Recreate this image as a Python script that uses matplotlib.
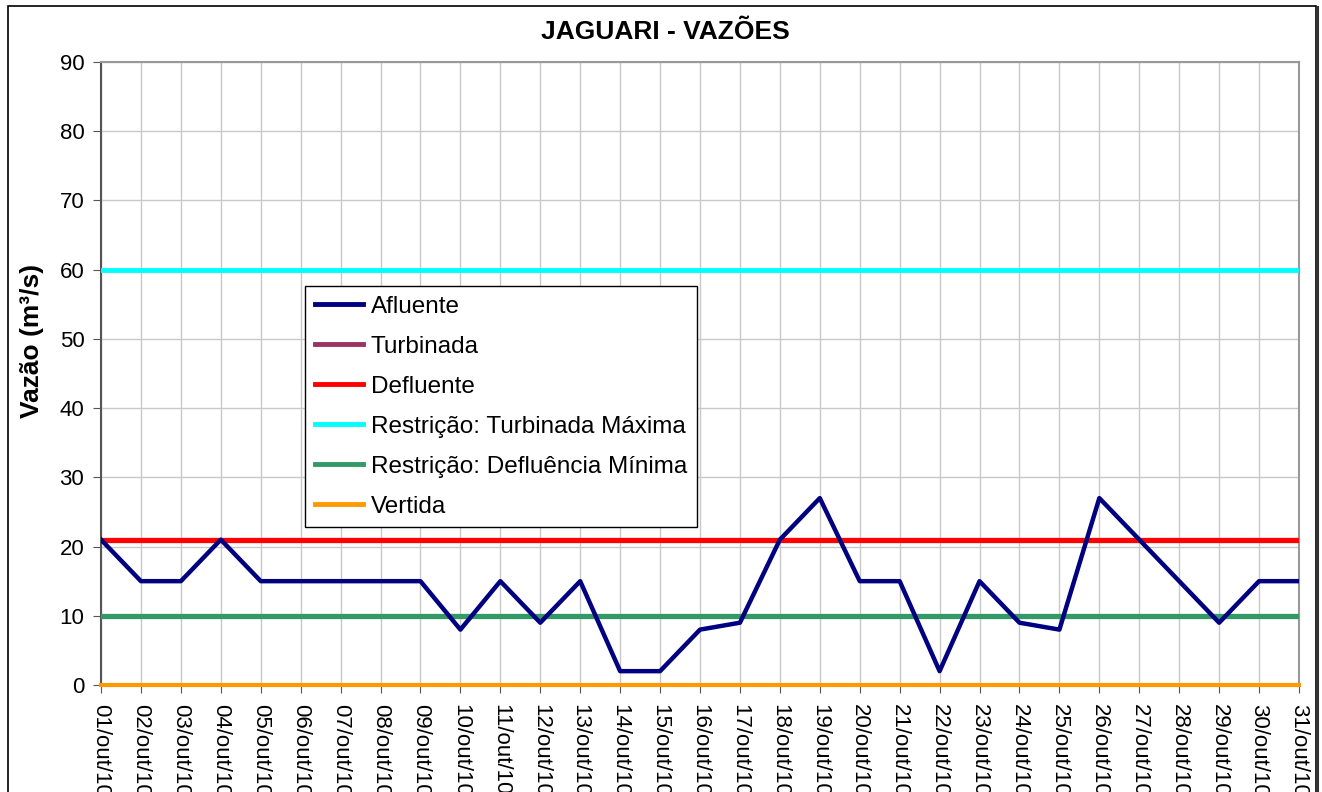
import matplotlib
matplotlib.use("Agg")
import matplotlib.pyplot as plt
from matplotlib.patches import Rectangle
from matplotlib.lines import Line2D

plt.rcParams['font.family'] = ['Liberation Sans', 'DejaVu Sans']

days = [f"{d:02d}/out/10" for d in range(1, 32)]
afluente = [21, 15, 15, 21, 15, 15, 15, 15, 15, 8, 15, 9, 15, 2, 2, 8, 9, 21, 27, 15,
            15, 2, 15, 9, 8, 27, 21, 15, 9, 15, 15]
turbinada = [21] * 31
defluente = [21] * 31
turb_max = [60] * 31
deflu_min = [10] * 31
vertida = [0] * 31

W, H = 1322, 792
fig = plt.figure(figsize=(W / 100, H / 100), dpi=100)
ax = fig.add_axes([101 / W, 1 - 685 / H, 1198 / W, 623 / H])

x = list(range(len(days)))
ax.plot(x, turbinada, color='#993366', lw=3.5, label='Turbinada', zorder=3)
ax.plot(x, defluente, color='#ff0000', lw=3.8, label='Defluente', zorder=4)
ax.plot(x, turb_max, color='#00ffff', lw=3.5, label='Restrição: Turbinada Máxima', zorder=4)
ax.plot(x, deflu_min, color='#339966', lw=3.8, label='Restrição: Defluência Mínima', zorder=4)
ax.plot(x, vertida, color='#ff9900', lw=3.0, label='Vertida', zorder=4, clip_on=False)
ax.plot(x, afluente, color='#000080', lw=3.2, label='Afluente', zorder=5)

ax.set_xlim(0, 30)
ax.set_ylim(0, 90)
ax.set_yticks(range(0, 91, 10))
ax.set_xticks(x)
ax.set_xticklabels(days, rotation=270, fontsize=16, va='top', ha='center')
ax.tick_params(axis='y', labelsize=16, length=6, color='#555555', direction='out', pad=6)
ax.tick_params(axis='x', length=6, color='#555555', direction='out', pad=8)
ax.grid(True, color='#c8c8c8', lw=1.0)
ax.set_axisbelow(True)
for s in ['left', 'bottom']:
    ax.spines[s].set_color('#555555')
    ax.spines[s].set_linewidth(1.5)
for s in ['top', 'right']:
    ax.spines[s].set_color('#999999')
    ax.spines[s].set_linewidth(1.5)

fig.text(32 / W, 1 - 341 / H, 'Vazão (m³/s)', fontsize=19, fontweight='bold',
         rotation=90, ha='center', va='center')
fig.text(665 / W, 1 - 32 / H, 'JAGUARI - VAZÕES', fontsize=19, fontweight='bold',
         ha='center', va='center')

handles, labels = ax.get_legend_handles_labels()
order = ['Afluente', 'Turbinada', 'Defluente', 'Restrição: Turbinada Máxima',
         'Restrição: Defluência Mínima', 'Vertida']
hmap = dict(zip(labels, handles))
leg = ax.legend([hmap[o] for o in order], order, loc='upper left',
                bbox_to_anchor=(204 / 1198, (685 - 286) / 623), fontsize=17.5, frameon=True,
                fancybox=False, edgecolor='black', framealpha=1, handlelength=2.0,
                handletextpad=0.3, labelspacing=0.74, borderpad=0.4, borderaxespad=0)
leg.get_frame().set_linewidth(1.0)
for l in leg.get_lines():
    l.set_linewidth(3.5)

fig.patches.append(Rectangle((8 / W, -0.1), (1316 - 8) / W, 1.1 - 6 / H,
                             transform=fig.transFigure, fill=False, edgecolor='black', lw=1.2))
fig.lines.append(Line2D([1317 / W, 1317 / W], [-0.1, 1 - 7 / H], transform=fig.transFigure,
                        color='#333333', lw=2.2))

fig.savefig('out.png', dpi=100)
